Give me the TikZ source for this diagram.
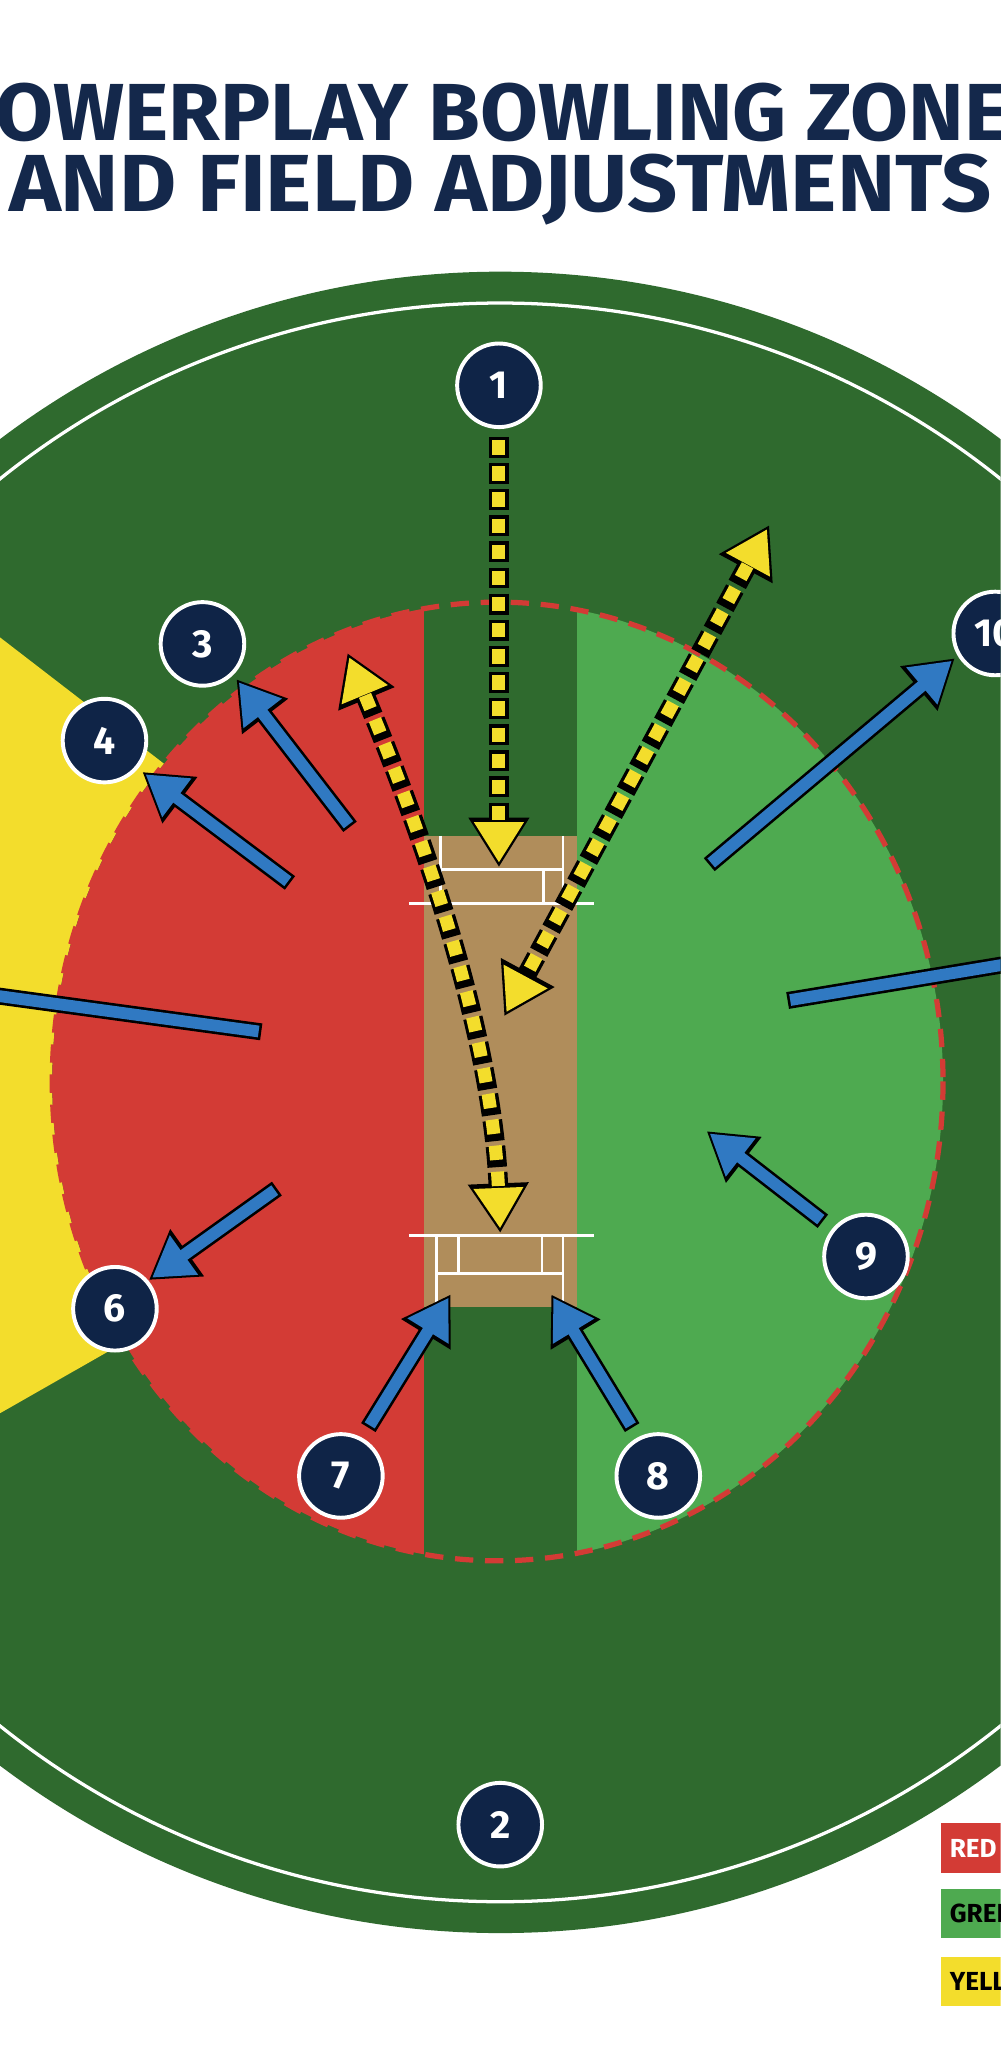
\documentclass[tikz,border=0pt]{standalone}
\usepackage{fontspec}
\setmainfont{Fira Sans}
\usetikzlibrary{arrows.meta}
\definecolor{dgreen}{HTML}{2F6A2E}
\definecolor{lgreen}{HTML}{4EAA50}
\definecolor{zred}{HTML}{D33B35}
\definecolor{zyellow}{HTML}{F3DD2C}
\definecolor{pitch}{HTML}{B08D5B}
\definecolor{navy}{HTML}{0F2447}
\definecolor{fblue}{HTML}{3079C2}
\definecolor{ttl}{HTML}{14284B}
\tikzset{
 fielder/.style={circle,fill=navy,draw=white,line width=3pt,minimum size=64pt,inner sep=0pt,text=white,font=\bfseries\fontsize{30}{30}\selectfont},
 crease/.style={white,line width=2.2pt},
 bout/.style={black,line width=13pt,-{Triangle[length=36pt,width=42pt]}},
 bin/.style={fblue,line width=9pt,shorten >=3pt,shorten <=2pt,-{Triangle[length=30pt,width=35pt]}},
 yout/.style={black,line width=15pt,dash pattern=on 16pt off 4pt},
 yin/.style={zyellow,line width=10pt,dash pattern=on 11pt off 9pt,dash phase=17.5pt},
 legbox/.style={anchor=west,minimum height=38pt,inner sep=0pt,font=\bfseries\fontsize{20}{20}\selectfont}
}
\begin{document}
\begin{tikzpicture}[x=1pt,y=-1pt]
\useasboundingbox (0,0) rectangle (766,1568);
\clip (0,0) rectangle (766,1568);
\fill[white] (0,0) rectangle (766,1568);
% title
\node[text=ttl,inner sep=0pt,font=\bfseries\fontsize{54}{54}\selectfont] (t1) at (383,86) {\resizebox{850pt}{44pt}{POWERPLAY BOWLING ZONES}};
\node[text=ttl,inner sep=0pt,font=\bfseries\fontsize{54}{54}\selectfont] (t2) at (383,145) {\resizebox{752pt}{44pt}{AND FIELD ADJUSTMENTS}};
% ground
\fill[dgreen] (383,844) circle (636);
\draw[white,line width=2.5pt] (383,844) circle (612);
% yellow wedge
\fill[zyellow] (0,488) -- (135,592) -- (135,1005) -- (0,1082) -- cycle;
% inner circle zones
\fill[dgreen] (381,828) ellipse (341 and 367);
\begin{scope}
\clip (381,828) ellipse (341 and 367);
\fill[zred] (0,400) rectangle (325,1250);
\fill[lgreen] (442,400) rectangle (766,1250);
\end{scope}
\draw[zred,line width=4pt,dash pattern=on 14pt off 9pt] (381,828) ellipse (341 and 367);
% pitch
\fill[pitch] (325,640) rectangle (442,1001);
\draw[crease] (313,692) -- (455,692);
\draw[crease] (337,666) -- (431,666);
\draw[crease] (337,640) -- (337,692) (431,640) -- (431,692) (416,666) -- (416,692);
\draw[crease] (313,946) -- (455,946);
\draw[crease] (334,975) -- (431,975);
\draw[crease] (334,946) -- (334,1001) (431,946) -- (431,1001) (351,946) -- (351,975) (415,946) -- (415,975);
% fielders
\node[fielder] (f1) at (382,295) {1};
\node[fielder] (f2) at (383,1397) {2};
\node[fielder] (f3) at (155,493) {3};
\node[fielder] (f4) at (80,567) {4};
\node[fielder] (f6) at (88,1002) {6};
\node[fielder] (f7) at (261,1130) {7};
\node[fielder] (f8) at (504,1130) {8};
\node[fielder] (f9) at (663,962) {9};
\node[fielder] (f10) at (762,485) {10};
% blue arrow coordinates
\coordinate (a3s) at (268,633); \coordinate (a3e) at (181,520);
\coordinate (a4s) at (222,676); \coordinate (a4e) at (109,591);
\coordinate (a5s) at (200,790); \coordinate (a5e) at (-20,760);
\coordinate (a6s) at (212,910); \coordinate (a6e) at (114,980);
\coordinate (a7s) at (282,1093); \coordinate (a7e) at (345,991);
\coordinate (a8s) at (484,1093); \coordinate (a8e) at (422,991);
\coordinate (a9s) at (630,935); \coordinate (a9e) at (541,866);
\coordinate (a10s) at (543,662); \coordinate (a10e) at (731,504);
\coordinate (a11s) at (603,766); \coordinate (a11e) at (790,735);
\foreach \s/\e in {a3s/a3e,a4s/a4e,a6s/a6e,a7s/a7e,a8s/a8e,a9s/a9e,a10s/a10e}{
 \draw[bout] (\s) -- (\e);
 \draw[bin] (\s) -- (\e);
}
\foreach \s/\e in {a5s/a5e,a11s/a11e}{
 \draw[black,line width=13pt] (\s) -- (\e);
 \draw[fblue,line width=9pt,shorten <=2pt] (\s) -- (\e);
}
% yellow dashed arrows
\coordinate (y1e) at (382,664);
\coordinate (y2s) at (266,500); \coordinate (y2e) at (383,944);
\coordinate (y3s) at (589,402); \coordinate (y3e) at (386,778);
\draw[yout,-{Triangle[length=38pt,width=44pt]}] (f1.south) ++(0,6) -- (y1e);
\draw[yin,shorten >=3.5pt,-{Triangle[length=31pt,width=36pt]}] (f1.south) ++(0,6) -- (y1e);
\draw[yout,{Triangle[length=38pt,width=44pt]}-{Triangle[length=38pt,width=44pt]}] (y2s) .. controls (345,690) and (378,820) .. (y2e);
\draw[yin,shorten >=3.5pt,shorten <=3.5pt,{Triangle[length=31pt,width=36pt]}-{Triangle[length=31pt,width=36pt]}] (y2s) .. controls (345,690) and (378,820) .. (y2e);
\draw[yout,{Triangle[length=38pt,width=44pt]}-{Triangle[length=38pt,width=44pt]}] (y3s) -- (y3e);
\draw[yin,shorten >=3.5pt,shorten <=3.5pt,{Triangle[length=31pt,width=36pt]}-{Triangle[length=31pt,width=36pt]}] (y3s) -- (y3e);
% legend
\node[legbox,fill=zred,text=white] (lr) at (720,1415) {\makebox[90pt][l]{\hspace*{7pt}RED}};
\node[legbox,fill=lgreen,text=black] (lg) at (720,1465) {\makebox[90pt][l]{\hspace*{7pt}GREEN}};
\node[legbox,fill=zyellow,text=black] (ly) at (720,1517) {\makebox[90pt][l]{\hspace*{7pt}YELLOW}};
\end{tikzpicture}
\end{document}
